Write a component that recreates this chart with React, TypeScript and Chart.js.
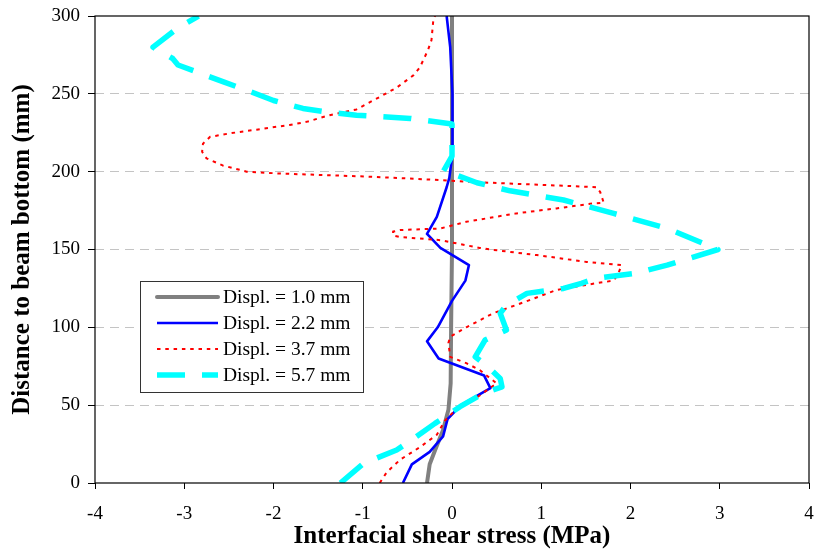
import React, { useEffect, useRef } from "react";
import { Chart, registerables } from "chart.js";

Chart.register(...registerables);

// ---- data ----
const xTickLabels = ["-4", "-3", "-2", "-1", "0", "1", "2", "3", "4"];
const yTickLabels = ["0", "50", "100", "150", "200", "250", "300"];

const seriesNames = ["Displ. = 1.0 mm", "Displ. = 2.2 mm", "Displ. = 3.7 mm", "Displ. = 5.7 mm"];

const d10Stress = [-0.28, -0.25, -0.19, -0.1, -0.04, -0.015, -0.01, 0, 0, 0];
const d10Dist = [0, 12, 21, 34, 47, 64, 100, 150, 200, 300];

const d22Stress = [-0.55, -0.45, -0.25, -0.1, -0.05, 0.1, 0.43, 0.36, -0.15, -0.28, -0.16, 0.0, 0.15, 0.19, -0.13, -0.28, -0.17, -0.06, -0.03, 0, 0, 0.01, -0.02, -0.06];
const d22Dist = [0, 12, 20, 30, 41, 50, 61, 69, 80, 91, 100, 117, 130, 140, 151, 160, 171, 190, 196, 209, 230, 250, 280, 300];

const d37Stress = [-0.81, -0.73, -0.58, -0.36, -0.17, -0.08, 0.09, 0.28, 0.5, 0.31, 0.16, -0.02, -0.04, -0.02, 0.16, 0.46, 0.87, 1.17, 1.58, 1.81, 1.86, 1.9, 1.51, 0.95, 0.43, 0.31, -0.13, -0.58, -0.66, -0.66, -0.58, -0.13, 0.16, 0.72, 1.17, 1.58, 1.7, 1.66, 1.62, 1.06, 0.16, -0.13, -0.88, -1.44, -1.96, -2.3, -2.57, -2.75, -2.8, -2.79, -2.71, -2.49, -2.19, -1.82, -1.63, -1.37, -1.07, -0.81, -0.62, -0.43, -0.36, -0.27, -0.23, -0.21, -0.19];
const d37Dist = [0, 7, 15, 23, 31, 40, 50, 55, 64, 72.6, 77, 81, 90, 94, 100, 109, 117.5, 124, 128, 130, 134, 140, 142, 146.4, 150, 151, 156, 158, 159, 161.5, 162.5, 163.5, 167.8, 173.2, 176.4, 179.6, 180, 187, 190, 191.4, 193.5, 194.6, 196.7, 197.8, 198.9, 200, 204, 208.5, 212.8, 218, 222.4, 224.6, 227, 230, 232, 236.3, 240, 248, 254, 262, 267, 278, 284.5, 297, 300];

const d57Stress = [-1.25, -0.99, -0.62, -0.4, -0.19, 0.09, 0.35, 0.56, 0.54, 0.38, 0.26, 0.37, 0.61, 0.54, 0.61, 0.84, 1.25, 1.45, 1.62, 2.05, 2.41, 2.98, 2.41, 1.81, 1.25, 0.65, 0.28, 0.05, -0.1, 0, 0, -0.47, -1.07, -1.42, -1.67, -2.0, -2.24, -2.56, -3.07, -3.13, -3.35, -3.08, -2.84];
const d57Dist = [0, 12.6, 21.2, 29.7, 38.3, 49, 57.6, 61.8, 67.2, 75.8, 81, 91.8, 98.3, 109, 114.3, 121.8, 125, 128.3, 131.5, 134.7, 140, 150, 163.6, 173.2, 181.8, 187.7, 192.9, 197.8, 200, 210, 230.6, 234.2, 236.3, 238.5, 240.6, 245.7, 251, 257.7, 268.5, 272.7, 280, 292, 300];

const FONT = "'Liberation Serif', 'Times New Roman', serif";

const styles = [
  { color: "#808080", width: 4, dash: [] as number[] },
  { color: "#0000FF", width: 2.6, dash: [] as number[] },
  { color: "#FF0000", width: 2, dash: [3.5, 4.8] },
  { color: "#00FFFF", width: 5.5, dash: [28, 17] },
];

const toPoints = (xs: number[], ys: number[]) => xs.map((x, i) => ({ x, y: ys[i] }));

const legendAndFrame = {
  id: "legendAndFrame",
  afterDraw(chart: any) {
    const { ctx, chartArea } = chart;
    ctx.save();
    // frame
    ctx.strokeStyle = "#000";
    ctx.lineWidth = 1.2;
    ctx.setLineDash([]);
    ctx.strokeRect(chartArea.left, chartArea.top, chartArea.right - chartArea.left, chartArea.bottom - chartArea.top);

    // legend box
    const bx = 140, by = 281, bw = 223, bh = 111;
    ctx.fillStyle = "#fff";
    ctx.fillRect(bx, by, bw, bh);
    ctx.strokeStyle = "#333";
    ctx.lineWidth = 1;
    ctx.strokeRect(bx + 0.5, by + 0.5, bw, bh);
    ctx.font = `19.5px ${FONT}`;
    ctx.textBaseline = "middle";
    ctx.textAlign = "left";
    seriesNames.forEach((name, i) => {
      const y = 297 + i * 26;
      const s = styles[i];
      ctx.beginPath();
      ctx.strokeStyle = s.color;
      ctx.lineWidth = s.width;
      ctx.setLineDash(s.dash);
      ctx.lineCap = i === 0 ? "round" : "butt";
      ctx.moveTo(157, y);
      ctx.lineTo(218, y);
      ctx.stroke();
      ctx.setLineDash([]);
      ctx.fillStyle = "#000";
      ctx.fillText(name, 223, y + 1);
    });
    ctx.restore();
  },
};

export default function App() {
  const ref = useRef<HTMLCanvasElement | null>(null);

  useEffect(() => {
    document.body.style.margin = "0";
    const canvas = ref.current;
    if (!canvas) return;
    const allData = [
      toPoints(d10Stress, d10Dist),
      toPoints(d22Stress, d22Dist),
      toPoints(d37Stress, d37Dist),
      toPoints(d57Stress, d57Dist),
    ];
    const chart = new Chart(canvas, {
      type: "scatter",
      data: {
        datasets: allData.map((pts, i) => ({
          label: seriesNames[i],
          data: pts,
          showLine: true,
          borderColor: styles[i].color,
          backgroundColor: styles[i].color,
          borderWidth: styles[i].width,
          borderDash: styles[i].dash,
          pointRadius: 0,
          pointHoverRadius: 0,
          tension: 0,
          fill: false,
          order: 4 - i,
          borderJoinStyle: "round" as const,
          borderCapStyle: "butt" as const,
        })),
      },
      plugins: [legendAndFrame],
      options: {
        responsive: false,
        animation: false,
        events: [],
        layout: { padding: { top: 16, right: 8, left: 0, bottom: 0 } },
        plugins: {
          legend: { display: false },
          tooltip: { enabled: false },
        },
        scales: {
          x: {
            type: "linear",
            min: -4,
            max: 4,
            afterFit: (s: any) => {
              s.height = 73;
              s.paddingLeft = 0;
              s.paddingRight = 0;
            },
            afterBuildTicks: (s: any) => {
              s.ticks = xTickLabels.map((t) => ({ value: Number(t) }));
            },
            ticks: {
              color: "#000",
              font: { family: FONT, size: 19 },
              padding: 14,
              maxRotation: 0,
              callback: (v: any) => String(v),
            },
            grid: {
              drawOnChartArea: false,
              drawTicks: true,
              tickLength: 6,
              color: "#000",
              tickColor: "#000",
            },
            border: { display: false },
            title: {
              display: true,
              text: "Interfacial shear stress (MPa)",
              color: "#000",
              font: { family: FONT, size: 25, weight: "bold" },
              padding: { top: 0, bottom: 4 },
            },
          },
          y: {
            type: "linear",
            min: 0,
            max: 300,
            afterFit: (s: any) => {
              s.width = 95;
              s.paddingTop = 0;
              s.paddingBottom = 0;
            },
            afterBuildTicks: (s: any) => {
              s.ticks = yTickLabels.map((t) => ({ value: Number(t) }));
            },
            ticks: {
              color: "#000",
              font: { family: FONT, size: 19 },
              padding: 8,
              callback: (v: any) => String(v),
            },
            grid: {
              drawTicks: true,
              tickLength: 7,
              tickColor: "#000",
              lineWidth: 1,
              color: (c: any) =>
                c.tick && (c.tick.value === 0 || c.tick.value === 300) ? "rgba(0,0,0,0)" : "#c4c4c4",
            },
            border: { display: false, dash: [9, 6] },
            title: {
              display: true,
              text: "Distance to beam bottom (mm)",
              color: "#000",
              font: { family: FONT, size: 25, weight: "bold" },
              padding: { top: 8, bottom: 0 },
            },
          },
        },
      },
    });
    return () => chart.destroy();
  }, []);

  return (
    <div style={{ width: 817, height: 556 }}>
      <canvas ref={ref} width={817} height={556} style={{ display: "block" }} />
    </div>
  );
}
